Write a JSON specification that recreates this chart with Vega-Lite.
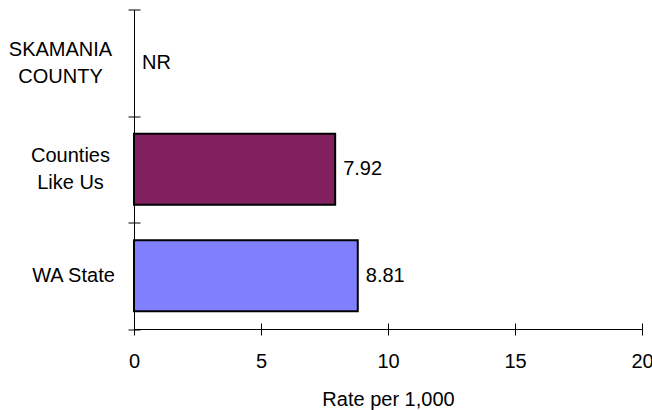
{
  "$schema": "https://vega.github.io/schema/vega-lite/v6.json",
  "width": 508,
  "height": 319.5,
  "autosize": {"type": "none"},
  "padding": {"left": 134, "top": 9.5, "right": 10, "bottom": 81},
  "config": {
    "font": "Liberation Sans",
    "view": {"stroke": null},
    "axis": {
      "grid": false,
      "domainColor": "#000000",
      "tickColor": "#000000",
      "domainWidth": 1,
      "tickWidth": 1,
      "labelColor": "#000000",
      "titleColor": "#000000",
      "labelFont": "Liberation Sans",
      "titleFont": "Liberation Sans",
      "labelFontSize": 20,
      "titleFontSize": 20,
      "titleFontWeight": "normal"
    }
  },
  "data": {
    "values": [
      {"category": "SKAMANIA COUNTY", "rate": null},
      {"category": "Counties Like Us", "rate": 7.92},
      {"category": "WA State", "rate": 8.81}
    ]
  },
  "transform": [
    {"calculate": "isValid(datum.rate) ? datum.rate : 0", "as": "labelPos"},
    {"calculate": "isValid(datum.rate) ? format(datum.rate, '.2f') : 'NR'", "as": "labelText"}
  ],
  "layer": [
    {
      "mark": {"type": "bar", "stroke": "#000000", "strokeWidth": 2, "height": {"band": 0.667}},
      "encoding": {
        "y": {
          "field": "category",
          "type": "nominal",
          "sort": ["SKAMANIA COUNTY", "Counties Like Us", "WA State"],
          "scale": {"paddingInner": 0, "paddingOuter": 0},
          "axis": {
            "title": null,
            "orient": "left",
            "tickBand": "extent",
            "tickSize": 6,
            "labelAlign": "center",
            "labelBaseline": "middle",
            "labelPadding": {"condition": [{"test": "datum.value == 'SKAMANIA COUNTY'", "value": 68}, {"test": "datum.value == 'Counties Like Us'", "value": 58}], "value": 55},
            "labelOffset": {"condition": {"test": "datum.value != 'WA State'", "value": -13.5}, "value": 0},
            "labelLineHeight": 27,
            "labelExpr": "datum.label == 'SKAMANIA COUNTY' ? ['SKAMANIA', 'COUNTY'] : datum.label == 'Counties Like Us' ? ['Counties', 'Like Us'] : datum.label"
          }
        },
        "x": {
          "field": "rate",
          "type": "quantitative",
          "scale": {"domain": [0, 20], "nice": false},
          "axis": {
            "title": "Rate per 1,000",
            "orient": "bottom",
            "values": [0, 5, 10, 15, 20],
            "tickSize": 6,
            "labelPadding": 16,
            "titlePadding": 18,
            "labelFlush": false,
            "labelOverlap": false
          }
        },
        "color": {
          "field": "category",
          "type": "nominal",
          "scale": {
            "domain": ["SKAMANIA COUNTY", "Counties Like Us", "WA State"],
            "range": ["#ffffff", "#80205F", "#8080FF"]
          },
          "legend": null
        }
      }
    },
    {
      "mark": {"type": "text", "align": "left", "baseline": "middle", "dx": 8, "fontSize": 20, "font": "Liberation Sans", "color": "#000000"},
      "encoding": {
        "y": {
          "field": "category",
          "type": "nominal",
          "sort": ["SKAMANIA COUNTY", "Counties Like Us", "WA State"],
          "axis": {
            "title": null,
            "orient": "right",
            "offset": -508,
            "tickBand": "extent",
            "tickSize": 6,
            "labels": false,
            "domain": false
          }
        },
        "x": {
          "field": "labelPos",
          "type": "quantitative",
          "scale": {"domain": [0, 20], "nice": false},
          "axis": {
            "title": null,
            "orient": "top",
            "offset": -319.5,
            "values": [0, 5, 10, 15, 20],
            "tickSize": 6,
            "labels": false,
            "domain": false
          }
        },
        "text": {"field": "labelText"}
      }
    }
  ],
  "resolve": {"axis": {"x": "independent", "y": "independent"}}
}
